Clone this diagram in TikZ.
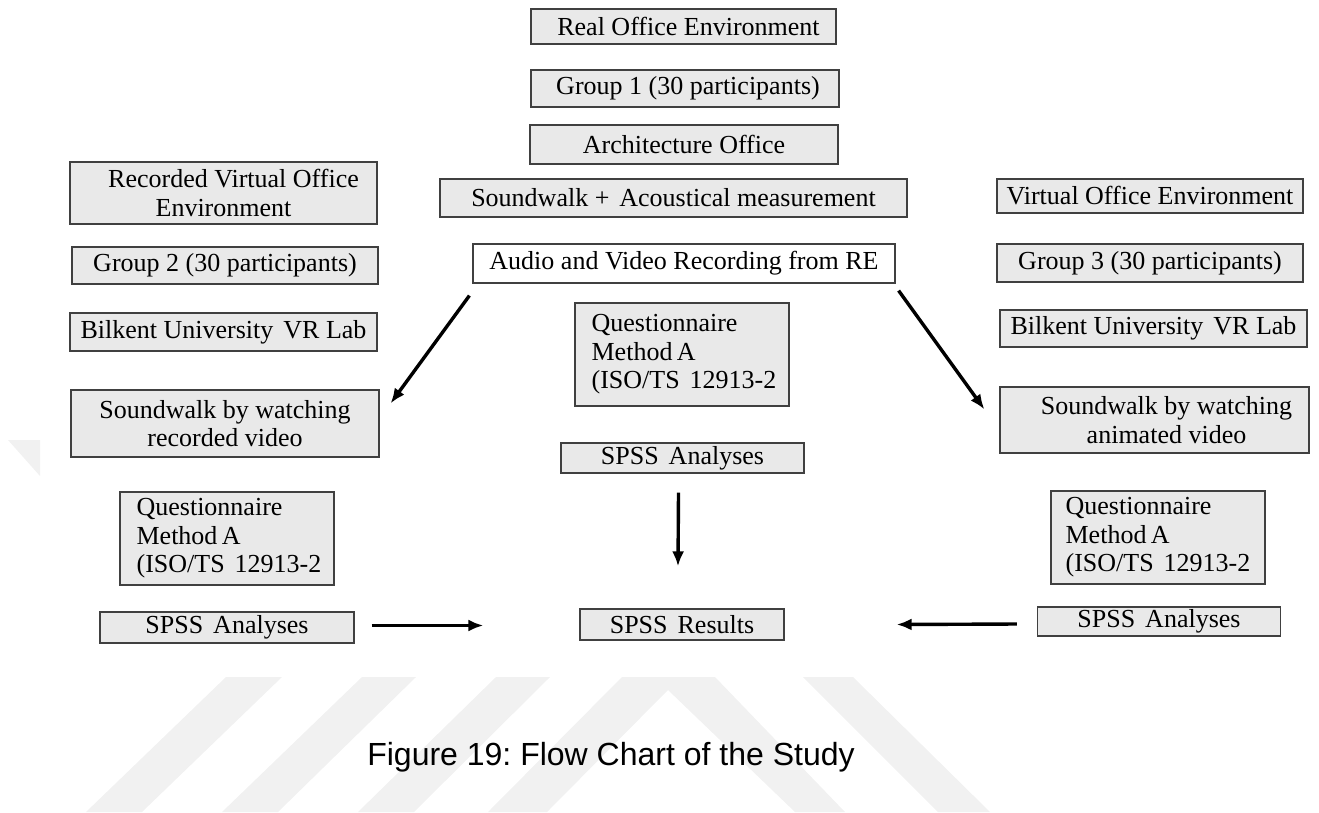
\documentclass[tikz,border=0pt]{standalone}
\usepackage{fontspec}
\setmainfont{Liberation Serif}
\newfontfamily\capfont{Liberation Sans}
\usetikzlibrary{arrows.meta}
\frenchspacing
\definecolor{boxfill}{gray}{0.915}
\definecolor{boxline}{gray}{0.25}
\definecolor{wmark}{gray}{0.945}
\newcommand\wsp{\hspace{10pt}}
\tikzset{
  stage/.style={draw=boxline, fill=boxfill, line width=1.2pt, inner sep=1pt,
    align=center, font=\fontsize{26}{28.5}\selectfont},
  qbox/.style={stage, align=left, minimum width=214pt},
  flow/.style={-{Latex[length=15pt,width=12pt]}, line width=3.4pt},
}
\begin{document}
\begin{tikzpicture}[x=1pt,y=-1pt]
    \useasboundingbox (0,0) rectangle (1319,812);
    % watermark
    \fill[wmark] (8,440) -- (40,440) -- (40,476) -- cycle;
    \fill[wmark] (86,812) -- (142,812) -- (282,677) -- (226,677) -- cycle;
    \fill[wmark] (222,812) -- (278,812) -- (416,677) -- (362,677) -- cycle;
    \fill[wmark] (358,812) -- (414,812) -- (550,677) -- (496,677) -- cycle;
    \fill[wmark] (488,812) -- (622,677) -- (715,677) -- (845,812) -- (795,812)
        -- (668,690) -- (547,812) -- cycle;
    \fill[wmark] (803,677) -- (853,677) -- (990,812) -- (938,812) -- cycle;

    \node[stage, minimum width=305pt, minimum height=35pt] (real) at (683.5,26.5) {\hspace*{10pt}Real Office Environment};
    \node[stage, minimum width=308pt, minimum height=37pt] (grp1) at (685,88.5) {\hspace*{6pt}Group 1 (30 participants)};
    \node[stage, minimum width=308pt, minimum height=39pt] (arch) at (684,144.5) {Architecture Office};
    \node[stage, minimum width=467pt, minimum height=38pt] (walk) at (673.5,198) {Soundwalk +\wsp Acoustical measurement};
    \node[stage, fill=white, minimum width=422pt, minimum height=39pt] (audio) at (684,263.5) {Audio and Video Recording from RE};
    \node[qbox, minimum height=103pt] (qc) at (682,354.5) {\hspace*{4pt}Questionnaire\\\hspace*{4pt}Method\,A\\\hspace*{4pt}(ISO/TS\wsp 12913-2};
    \node[stage, minimum width=243pt, minimum height=30pt] (spc) at (682.5,458) {SPSS\wsp Analyses};
    \node[stage, minimum width=204pt, minimum height=31pt] (res) at (682,624.5) {SPSS\wsp Results};

    \node[stage, minimum width=307pt, minimum height=62pt] (recl) at (223.5,193) {\hspace*{20pt}Recorded Virtual Office\\Environment};
    \node[stage, minimum width=306pt, minimum height=37pt] (grp2) at (225,265.5) {Group 2 (30 participants)};
    \node[stage, minimum width=307pt, minimum height=38pt] (labl) at (223.5,332) {Bilkent University\wsp VR Lab};
    \node[stage, minimum width=308pt, minimum height=67pt] (swl) at (225,423.5) {Soundwalk by watching\\recorded video};
    \node[qbox, minimum height=93pt] (ql) at (227,538.5) {\hspace*{4pt}Questionnaire\\\hspace*{4pt}Method\,A\\\hspace*{4pt}(ISO/TS\wsp 12913-2};
    \node[stage, minimum width=254pt, minimum height=31pt] (spl) at (227,627.5) {SPSS\wsp Analyses};

    \node[stage, minimum width=306pt, minimum height=34pt] (virt) at (1150,196) {Virtual Office Environment};
    \node[stage, minimum width=306pt, minimum height=38pt] (grp3) at (1150,263) {Group 3 (30 participants)};
    \node[stage, minimum width=307pt, minimum height=37pt] (labr) at (1153.5,328.5) {Bilkent University\wsp VR Lab};
    \node[stage, minimum width=309pt, minimum height=66pt] (swr) at (1154.5,420) {\hspace*{24pt}Soundwalk by watching\\\hspace*{24pt}animated video};
    \node[qbox, minimum height=93pt] (qr) at (1158,537.5) {Questionnaire\\Method\,A\\(ISO/TS\wsp 12913-2};
    \node[stage, minimum width=243pt, minimum height=29pt] (spr) at (1159,621.5) {SPSS\wsp Analyses};

    \draw[flow] ([shift={(-3,12)}]audio.south west) -- ([shift={(11,14)}]swl.north east);
    \draw[flow] ([shift={(3,7)}]audio.south east) -- ([shift={(-15,23)}]swr.north west);
    \draw[flow] ([shift={(-4,19)}]spc.south) -- ([shift={(-4,-42)}]res.north);
    \draw[flow] ([shift={(17,-2)}]spl.east) -- ([shift={(-96,1)}]res.west);
    \draw[flow] ([shift={(-20,2.5)}]spr.west) -- ([shift={(112,0)}]res.east);

    \node[font=\capfont\fontsize{32}{36}\selectfont] (cap) at (611,757) {Figure 19: Flow Chart of the Study};
\end{tikzpicture}
\end{document}
